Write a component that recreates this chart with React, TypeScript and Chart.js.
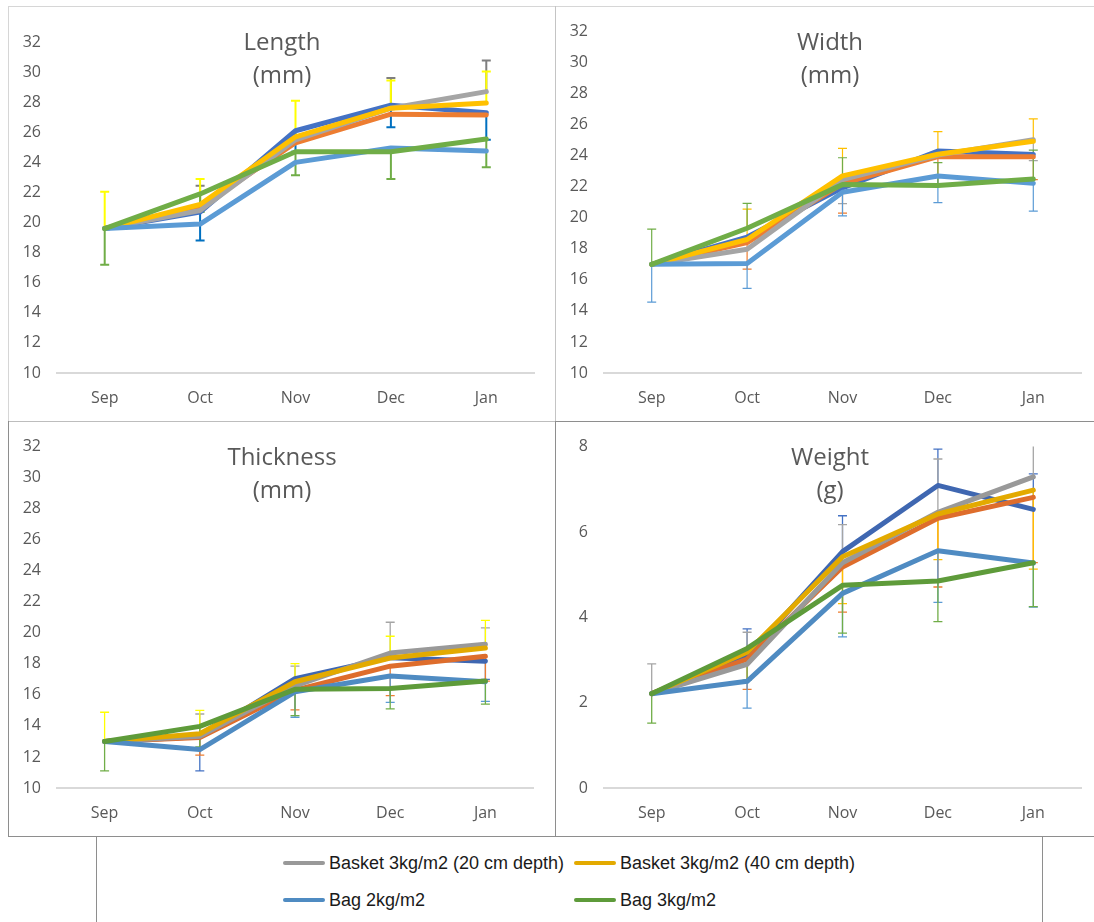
import React, { useEffect, useRef } from 'react';
import { Chart, registerables } from 'chart.js';

Chart.register(...registerables);

// ---------- data ----------
const months = ['Sep', 'Oct', 'Nov', 'Dec', 'Jan'];
const seriesNames = [
  'Series 1',
  'Series 2',
  'Basket 3kg/m2 (20 cm depth)',
  'Basket 3kg/m2 (40 cm depth)',
  'Bag 2kg/m2',
  'Bag 3kg/m2',
];
const legendSeries = [2, 3, 4, 5];

// rows: series 1..6, columns: Sep..Jan ; error rows: 0 = no visible bar
const lengthMeans = [
  [19.6, 20.7, 26.1, 27.8, 27.3],
  [19.6, 21.0, 25.3, 27.2, 27.15],
  [19.6, 20.8, 25.5, 27.6, 28.7],
  [19.6, 21.2, 25.7, 27.6, 27.95],
  [19.6, 19.9, 24.0, 24.95, 24.75],
  [19.6, 21.9, 24.7, 24.7, 25.55],
];
const lengthErrUp = [
  [0, 0, 0, 0, 0],
  [0, 0, 0, 0, 0],
  [0, 1.64, 0, 2.0, 2.07],
  [2.44, 1.7, 2.4, 1.84, 2.09],
  [0, 0, 0, 0, 0],
  [0, 0, 0, 0, 0],
];
const lengthErrDown = [
  [0, 1.9, 1.4, 1.46, 1.8],
  [0, 0, 0, 0, 0],
  [0, 0, 0, 0, 0],
  [0, 0, 0, 0, 0],
  [0, 0, 0, 0, 0],
  [2.4, 1.2, 1.55, 1.8, 1.88],
];

const widthMeans = [
  [17.0, 18.76, 21.93, 24.3, 24.08],
  [17.0, 18.4, 22.2, 23.94, 23.94],
  [17.0, 17.98, 22.46, 24.04, 25.03],
  [17.0, 18.6, 22.7, 24.1, 24.93],
  [17.0, 17.05, 21.65, 22.7, 22.22],
  [17.0, 19.33, 22.14, 22.08, 22.5],
];
const widthErrUp = [
  [0, 0, 0, 0, 0],
  [0, 0, 0, 0, 0],
  [0, 0, 0, 0, 0],
  [0, 1.96, 1.78, 1.46, 1.45],
  [0, 0, 0, 0, 0],
  [2.27, 1.6, 1.73, 1.48, 1.86],
];
const widthErrDown = [
  [0, 0, 0, 0, 0],
  [0, 1.7, 1.9, 1.76, 1.48],
  [0, 0, 1.54, 0, 1.35],
  [0, 0, 0, 0, 0],
  [2.43, 1.6, 1.52, 1.72, 1.79],
  [0, 0, 0, 0, 0],
];

const thicknessMeans = [
  [13.0, 13.3, 17.04, 18.4, 18.17],
  [13.0, 13.25, 16.3, 17.85, 18.49],
  [13.0, 13.33, 16.58, 18.7, 19.27],
  [13.0, 13.5, 16.85, 18.38, 19.02],
  [13.0, 12.48, 16.2, 17.22, 16.85],
  [13.0, 13.97, 16.36, 16.41, 16.9],
];
const thicknessErrUp = [
  [0, 0, 0, 0, 0],
  [0, 0, 0, 0, 0],
  [0, 1.44, 1.27, 1.98, 1.05],
  [1.88, 1.5, 1.17, 1.4, 1.78],
  [0, 0, 0, 0, 0],
  [0, 0, 0, 0, 0],
];
const thicknessErrDown = [
  [0, 2.2, 0, 0, 1.17],
  [0, 1.13, 1.27, 1.9, 1.6],
  [0, 0, 0, 0, 0],
  [0, 0, 0, 0, 0],
  [0, 0, 1.64, 1.7, 1.27],
  [1.9, 1.32, 1.69, 1.31, 1.49],
];

const weightMeans = [
  [2.21, 3.08, 5.54, 7.09, 6.53],
  [2.21, 3.02, 5.18, 6.32, 6.81],
  [2.21, 2.9, 5.28, 6.46, 7.29],
  [2.21, 3.18, 5.42, 6.42, 6.98],
  [2.21, 2.5, 4.56, 5.56, 5.27],
  [2.21, 3.27, 4.75, 4.85, 5.28],
];
const weightErrUp = [
  [0, 0.65, 0.84, 0.85, 0.83],
  [0, 0, 0, 0, 0],
  [0.7, 0.75, 0.89, 1.25, 1.0],
  [0, 0, 0, 0, 0],
  [0, 0, 0, 0, 0],
  [0, 0, 0, 0, 0],
];
const weightErrDown = [
  [0, 0, 0, 0, 0],
  [0, 0.71, 1.06, 1.61, 1.53],
  [0, 0, 0, 0, 0],
  [0, 0, 1.1, 1.07, 1.85],
  [0, 0.63, 1.02, 1.21, 1.03],
  [0.69, 0.74, 1.12, 0.95, 1.03],
];

// ---------- styles ----------
const lineColorsTop = ['#4472C4', '#ED7D31', '#A5A5A5', '#FFC000', '#5B9BD5', '#70AD47'];
const lineColorsBottom = ['#3F67B1', '#DE6D2C', '#999999', '#E3AA00', '#4F8BC2', '#5E9B3A'];
const errColorsLength = ['#0070C0', '#ED7D31', '#7F7F7F', '#FFFF00', '#5B9BD5', '#70AD47'];
const errColorsWidth = ['#4472C4', '#ED7D31', '#A5A5A5', '#FFC000', '#5B9BD5', '#70AD47'];
const errColorsThickness = ['#4472C4', '#ED7D31', '#A5A5A5', '#FFFF00', '#5B9BD5', '#70AD47'];
const errColorsWeight = ['#4472C4', '#ED7D31', '#A5A5A5', '#FFC000', '#5B9BD5', '#70AD47'];

const TEXT = '#595959';
const FONT = "'Open Sans', 'DejaVu Sans', sans-serif";
const CW = 548;
const CH = 415;

function Panel(props: any) {
  const ref = useRef<HTMLCanvasElement>(null);
  const {
    left, top, padTop, axisW, padRight, title, unit, means, errUp, errDown,
    lineColors, errColors, errWidth, yMin, yMax,
  } = props;

  useEffect(() => {
    const errPlugin = {
      id: 'errbars',
      beforeDatasetsDraw(chart: any) {
        const { ctx, chartArea, scales } = chart;
        const x = scales.x;
        const y = scales.y;
        ctx.save();
        // title (behind the data)
        ctx.fillStyle = TEXT;
        ctx.font = `24px ${FONT}`;
        ctx.textAlign = 'center';
        ctx.textBaseline = 'alphabetic';
        ctx.fillText(title, 274, 43.5);
        ctx.fillText(unit, 274, 76.5);
        // error bars
        ctx.beginPath();
        ctx.rect(chartArea.left, chartArea.top, chartArea.right - chartArea.left, chartArea.bottom - chartArea.top);
        ctx.clip();
        ctx.lineWidth = errWidth;
        means.forEach((row: number[], i: number) => {
          ctx.strokeStyle = errColors[i];
          row.forEach((v: number, j: number) => {
            const px = x.getPixelForValue(j);
            const py = y.getPixelForValue(v);
            const parts = [errUp[i][j] ? v + errUp[i][j] : null, errDown[i][j] ? v - errDown[i][j] : null];
            parts.forEach((end) => {
              if (end === null) return;
              const pe = y.getPixelForValue(end);
              ctx.beginPath();
              ctx.moveTo(px, py);
              ctx.lineTo(px, pe);
              ctx.moveTo(px - 4.5, pe);
              ctx.lineTo(px + 4.5, pe);
              ctx.stroke();
            });
          });
        });
        ctx.restore();
      },
    };

    const chart = new Chart(ref.current as HTMLCanvasElement, {
      type: 'line',
      data: {
        labels: months,
        datasets: means.map((m: number[], i: number) => ({
          label: seriesNames[i],
          data: m,
          borderColor: lineColors[i],
          backgroundColor: lineColors[i],
          borderWidth: 5,
          pointRadius: 0,
          pointHoverRadius: 0,
          borderCapStyle: 'round',
          borderJoinStyle: 'round',
          tension: 0,
          fill: false,
          order: means.length - i,
        })),
      },
      options: {
        responsive: false,
        animation: false,
        events: [],
        layout: { padding: { top: padTop, right: padRight, bottom: 0, left: 0 } },
        plugins: {
          legend: { display: false },
          tooltip: { enabled: false },
          title: { display: false },
        },
        scales: {
          x: {
            type: 'category',
            offset: true,
            grid: { display: false, drawTicks: false },
            border: { display: true, color: '#D9D9D9', width: 2 },
            ticks: { padding: 16, color: TEXT, font: { family: FONT, size: 16 } },
            afterFit: (s: any) => { s.height = 48; },
          },
          y: {
            min: yMin,
            max: yMax,
            grid: { display: false, drawTicks: false },
            border: { display: false },
            ticks: { stepSize: 2, padding: 16, color: TEXT, font: { family: FONT, size: 16 } },
            afterFit: (s: any) => { s.width = axisW; },
          },
        },
      } as any,
      plugins: [errPlugin],
    });
    return () => chart.destroy();
  }, []);

  return (
    <canvas
      ref={ref}
      width={CW}
      height={CH}
      style={{ position: 'absolute', left, top, width: CW, height: CH }}
    />
  );
}

function Line(p: any) {
  return <div style={{ position: 'absolute', left: p.x, top: p.y, width: p.w, height: p.h, background: p.c }} />;
}

export default function App() {
  const light = '#D6D6D6';
  const dark = '#8E8E8E';
  return (
    <div style={{ position: 'absolute', left: 0, top: 0, width: 1094, height: 922, overflow: 'hidden', background: '#fff' }}>
      <Panel left={8} top={6} padTop={36} axisW={49} padRight={22} title="Length" unit="(mm)"
        means={lengthMeans} errUp={lengthErrUp} errDown={lengthErrDown} lineColors={lineColorsTop}
        errColors={errColorsLength} errWidth={2} yMin={10} yMax={32} />
      <Panel left={556} top={6} padTop={20} axisW={48} padRight={23} title="Width" unit="(mm)"
        means={widthMeans} errUp={widthErrUp} errDown={widthErrDown} lineColors={lineColorsTop}
        errColors={errColorsWidth} errWidth={1.2} yMin={10} yMax={32} />
      <Panel left={8} top={421} padTop={21.7} axisW={49} padRight={23} title="Thickness" unit="(mm)"
        means={thicknessMeans} errUp={thicknessErrUp} errDown={thicknessErrDown} lineColors={lineColorsBottom}
        errColors={errColorsThickness} errWidth={1.3} yMin={10} yMax={32} />
      <Panel left={556} top={421} padTop={20.7} axisW={48} padRight={23} title="Weight" unit="(g)"
        means={weightMeans} errUp={weightErrUp} errDown={weightErrDown} lineColors={lineColorsBottom}
        errColors={errColorsWeight} errWidth={1.3} yMin={0} yMax={8} />

      {/* panel borders */}
      <Line x={8} y={6} w={1086} h={1} c={light} />
      <Line x={8} y={6} w={1} h={415} c={light} />
      <Line x={555} y={6} w={1} h={415} c={'#C4C4C4'} />
      <Line x={8} y={421} w={547} h={1} c={'#BDBDBD'} />
      <Line x={555} y={421} w={539} h={1} c={dark} />
      <Line x={8} y={421} w={1} h={415} c={dark} />
      <Line x={555} y={421} w={1} h={415} c={dark} />
      <Line x={8} y={836} w={1086} h={1} c={dark} />
      <Line x={96} y={836} w={1} h={86} c={dark} />
      <Line x={1042} y={836} w={1} h={86} c={dark} />

      {/* legend */}
      {legendSeries.map((si, k) => {
        const col = k % 2;
        const row = Math.floor(k / 2);
        const lx = col === 0 ? 283 : 574;
        const cy = row === 0 ? 862.7 : 899.7;
        return (
          <div key={si} style={{ position: 'absolute', left: lx, top: cy - 10, height: 20, display: 'flex', alignItems: 'center', whiteSpace: 'nowrap' }}>
            <div style={{ width: 42, height: 4, background: lineColorsBottom[si], marginRight: 4, borderRadius: 2 }} />
            <span style={{ fontFamily: "'Liberation Sans', Arial, sans-serif", fontSize: 18, lineHeight: '20px', color: '#1a1a1a' }}>
              {seriesNames[si]}
            </span>
          </div>
        );
      })}
    </div>
  );
}
